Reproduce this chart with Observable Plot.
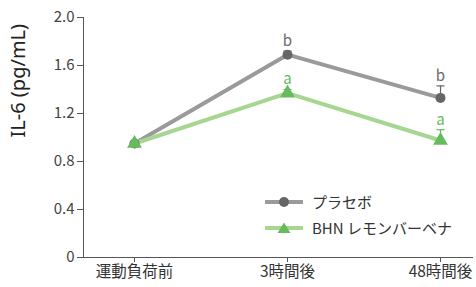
<!DOCTYPE html>
<html><head><meta charset="utf-8">
<script src="https://cdn.jsdelivr.net/npm/d3@7"></script>
<script src="https://cdn.jsdelivr.net/npm/@observablehq/plot@0.6"></script>
<style>
body{margin:0;background:#fff;font-family:"Noto Sans CJK JP","Noto Sans",sans-serif;}
#wrap{position:relative;width:476px;height:287px;}
#legend{position:absolute;left:265px;top:189px;font-size:15px;color:#333;line-height:26px;}
#legend div{display:flex;align-items:center;}
#legend svg{margin-right:9px;}
</style></head><body>
<div id="wrap"><div id="chart"></div>
<div id="legend"></div></div>
<script>
const categories = ["運動負荷前", "3時間後", "48時間後"];
const seriesNames = ["プラセボ", "BHN レモンバーベナ"];
const placebo = [0.95, 1.69, 1.33];
const placeboErr = [0.02, 0.03, 0.10];
const placeboLabels = ["", "b", "b"];
const bhn = [0.95, 1.37, 0.975];
const bhnErr = [0.02, 0.03, 0.09];
const bhnLabels = ["", "a", "a"];
const yTicks = [0, 0.4, 0.8, 1.2, 1.6, 2.0];

const lineColors = ["#9a9a9a", "#a6d690"];
const markColors = ["#666666", "#66bb5c"];
const textColors = ["#6a6a6a", "#66bb5c"];

const rows = [];
categories.forEach((c, i) => {
  rows.push({cat: c, s: seriesNames[0], v: placebo[i], e: placeboErr[i], lab: placeboLabels[i], k: 0});
  rows.push({cat: c, s: seriesNames[1], v: bhn[i], e: bhnErr[i], lab: bhnLabels[i], k: 1});
});
const P = rows.filter(d => d.k === 0), B = rows.filter(d => d.k === 1);
const capSymbol = {draw(ctx, size) { const r = Math.sqrt(size / Math.PI); ctx.moveTo(-r, 0); ctx.lineTo(r, 0); }};

const plot = Plot.plot({
  width: 476, height: 287,
  marginLeft: 83, marginRight: 3, marginTop: 17, marginBottom: 30,
  style: {fontFamily: '"Noto Sans CJK JP","Noto Sans",sans-serif', fontSize: "15px", color: "#333", background: "#fff"},
  x: {type: "point", domain: categories, range: [134, 440], padding: 0, label: null},
  y: {domain: [0, 2.0], label: null},
  marks: [
    Plot.axisY({ticks: yTicks, tickFormat: d => d === 0 ? "0" : d.toFixed(1), tickSize: 6, tickPadding: 3, stroke: "#555", fontSize: 15, fill: "#444"}),
    Plot.axisX({tickSize: 5, tickPadding: 3, stroke: "#555", fontSize: 15.5, fill: "#333"}),
    Plot.frame({anchor: "left", stroke: "#555"}),
    Plot.ruleY([0], {stroke: "#555"}),
    Plot.ruleX(rows.filter(d => d.lab), {x: "cat", y1: "v", y2: d => d.v + d.e, stroke: d => markColors[d.k], strokeWidth: 1.2}),
    Plot.dot(rows.filter(d => d.lab), {x: "cat", y: d => d.v + d.e, r: 4, symbol: capSymbol, stroke: d => markColors[d.k], strokeWidth: 1.2, fill: "none"}),
    Plot.line(P, {x: "cat", y: "v", stroke: lineColors[0], strokeWidth: 4}),
    Plot.line(B, {x: "cat", y: "v", stroke: lineColors[1], strokeWidth: 4}),
    Plot.dot(P, {x: "cat", y: "v", r: 5, fill: markColors[0], symbol: "circle"}),
    Plot.dot(B, {x: "cat", y: "v", r: 5.5, fill: markColors[1], symbol: "triangle"}),
    Plot.text(rows.filter(d => d.lab), {x: "cat", y: d => d.v + d.e, text: "lab", dy: -10, fill: d => textColors[d.k], fontSize: 15}),
    Plot.text(["IL-6 (pg/mL)"], {frameAnchor: "left", dx: -65, rotate: -90, fontSize: 20, fill: "#222", fontFamily: '"Noto Sans","Noto Sans CJK JP",sans-serif'})
  ]
});
document.getElementById("chart").appendChild(plot);

const leg = document.getElementById("legend");
seriesNames.forEach((n, k) => {
  const d = document.createElement("div");
  const sym = k === 0
    ? `<circle cx="19" cy="7" r="5" fill="${markColors[0]}"/>`
    : `<path d="M19,1.5 L25.5,12 L12.5,12Z" fill="${markColors[1]}"/>`;
  d.innerHTML = `<svg width="38" height="14"><line x1="0" x2="38" y1="7" y2="7" stroke="${lineColors[k]}" stroke-width="4"/>${sym}</svg><span>${n}</span>`;
  leg.appendChild(d);
});
</script></body></html>
